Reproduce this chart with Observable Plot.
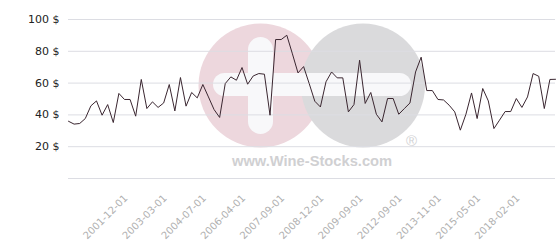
<!DOCTYPE html>
<html><head><meta charset="utf-8">
<script src="https://cdn.jsdelivr.net/npm/d3@7"></script>
<script src="https://cdn.jsdelivr.net/npm/@observablehq/plot@0.6"></script>
<style>
html,body{margin:0;padding:0;background:#fff;}
#chart{width:560px;height:240px;position:relative;overflow:hidden;}
#chart svg{display:block;background:linear-gradient(to right,#e5e9ec 0,#e5e9ec 63px,#ffffff 63px,#ffffff 64px,rgba(255,255,255,0) 64px),linear-gradient(to bottom,#f2f3f7 0%,#f5f6f9 60%,#ffffff 100%);}
</style></head><body><div id="chart"></div>
<script>
const prices = [36.0,34.2,34.6,37.7,45.7,48.8,39.8,46.5,35.2,53.5,49.7,49.7,39.2,62.3,44.0,48.2,44.7,47.5,59.1,42.5,
63.5,45.5,54.1,50.7,59.1,51.3,43.4,38.4,59.7,63.9,61.8,69.8,59.3,64.5,66.0,65.6,39.8,87.4,87.4,90.1,
78.4,66.4,70.4,59.7,48.6,45.0,60.8,67.0,63.3,63.3,41.9,46.5,74.4,47.2,54.1,40.4,35.6,50.3,50.3,40.4,
44.0,47.5,67.0,76.3,55.3,55.3,49.7,49.4,46.1,41.9,30.4,40.4,53.8,37.7,56.6,48.8,31.4,36.7,42.1,42.1,
50.3,44.7,51.3,66.0,64.3,44.0,62.3,62.4];
const yTicks = [20,40,60,80,100];
const gridValues = [0,20,40,60,80,100];
const xTickIndex = [11,18,25,32,39,46,53,60,67,74,81];
const xTickLabels = ["2001-12-01","2003-03-01","2004-07-01","2006-04-01","2007-09-01","2008-12-01","2009-09-01","2012-09-01","2013-11-01","2015-05-01","2018-02-01"];
const data = prices.map((v,i)=>({i, v}));
const ticks = xTickIndex.map((i,k)=>({i, label:xTickLabels[k]}));

const svg = Plot.plot({
  width:560, height:240, marginLeft:68, marginRight:5, marginTop:19, marginBottom:62,
  style:{fontFamily:"DejaVu Sans", background:"transparent", overflow:"visible"},
  x:{domain:[0, prices.length-1], label:null, axis:null},
  y:{domain:[0,100], label:null},
  marks:[
    Plot.ruleY(gridValues, {stroke:"#dcdde3", strokeWidth:1}),
    Plot.axisY(yTicks, {tickSize:0, tickPadding:9, tickFormat:d=>d+" $", fontSize:11, color:"#222", label:null}),
    Plot.text(ticks, {x:"i", text:"label", frameAnchor:"bottom", dx:-4, dy:18, rotate:-45, textAnchor:"end", lineAnchor:"middle", fontSize:10, fill:"#b0b0b0"}),
    Plot.line(data, {x:"i", y:"v", stroke:"#3a2630", strokeWidth:1})
  ]
});

// decorative watermark behind the marks
const wm = d3.create("svg:g").attr("aria-label","watermark").attr("text-anchor","start");
wm.append("circle").attr("cx",260.5).attr("cy",85.5).attr("r",62).attr("fill","#edd7dd");
wm.append("circle").attr("cx",363).attr("cy",85.5).attr("r",62).attr("fill","#dadadc");
wm.append("rect").attr("x",248).attr("y",37).attr("width",25).attr("height",97).attr("rx",12.5).attr("fill","#f8f8fa");
wm.append("rect").attr("x",213).attr("y",73).attr("width",198).attr("height",23).attr("rx",11.5).attr("fill","#f8f8fa");
wm.append("text").attr("x",232).attr("y",166).attr("font-family","Liberation Sans").attr("font-weight","bold").attr("font-size",14.7).attr("fill","#d0d0d2").text("www.Wine-Stocks.com");
wm.append("text").attr("x",406).attr("y",146).attr("font-family","Liberation Sans").attr("font-size",15).attr("fill","#d2d2d4").text("®");
const firstG = svg.querySelector("g");
svg.insertBefore(wm.node(), firstG);

document.getElementById("chart").appendChild(svg);
</script>
</body></html>
